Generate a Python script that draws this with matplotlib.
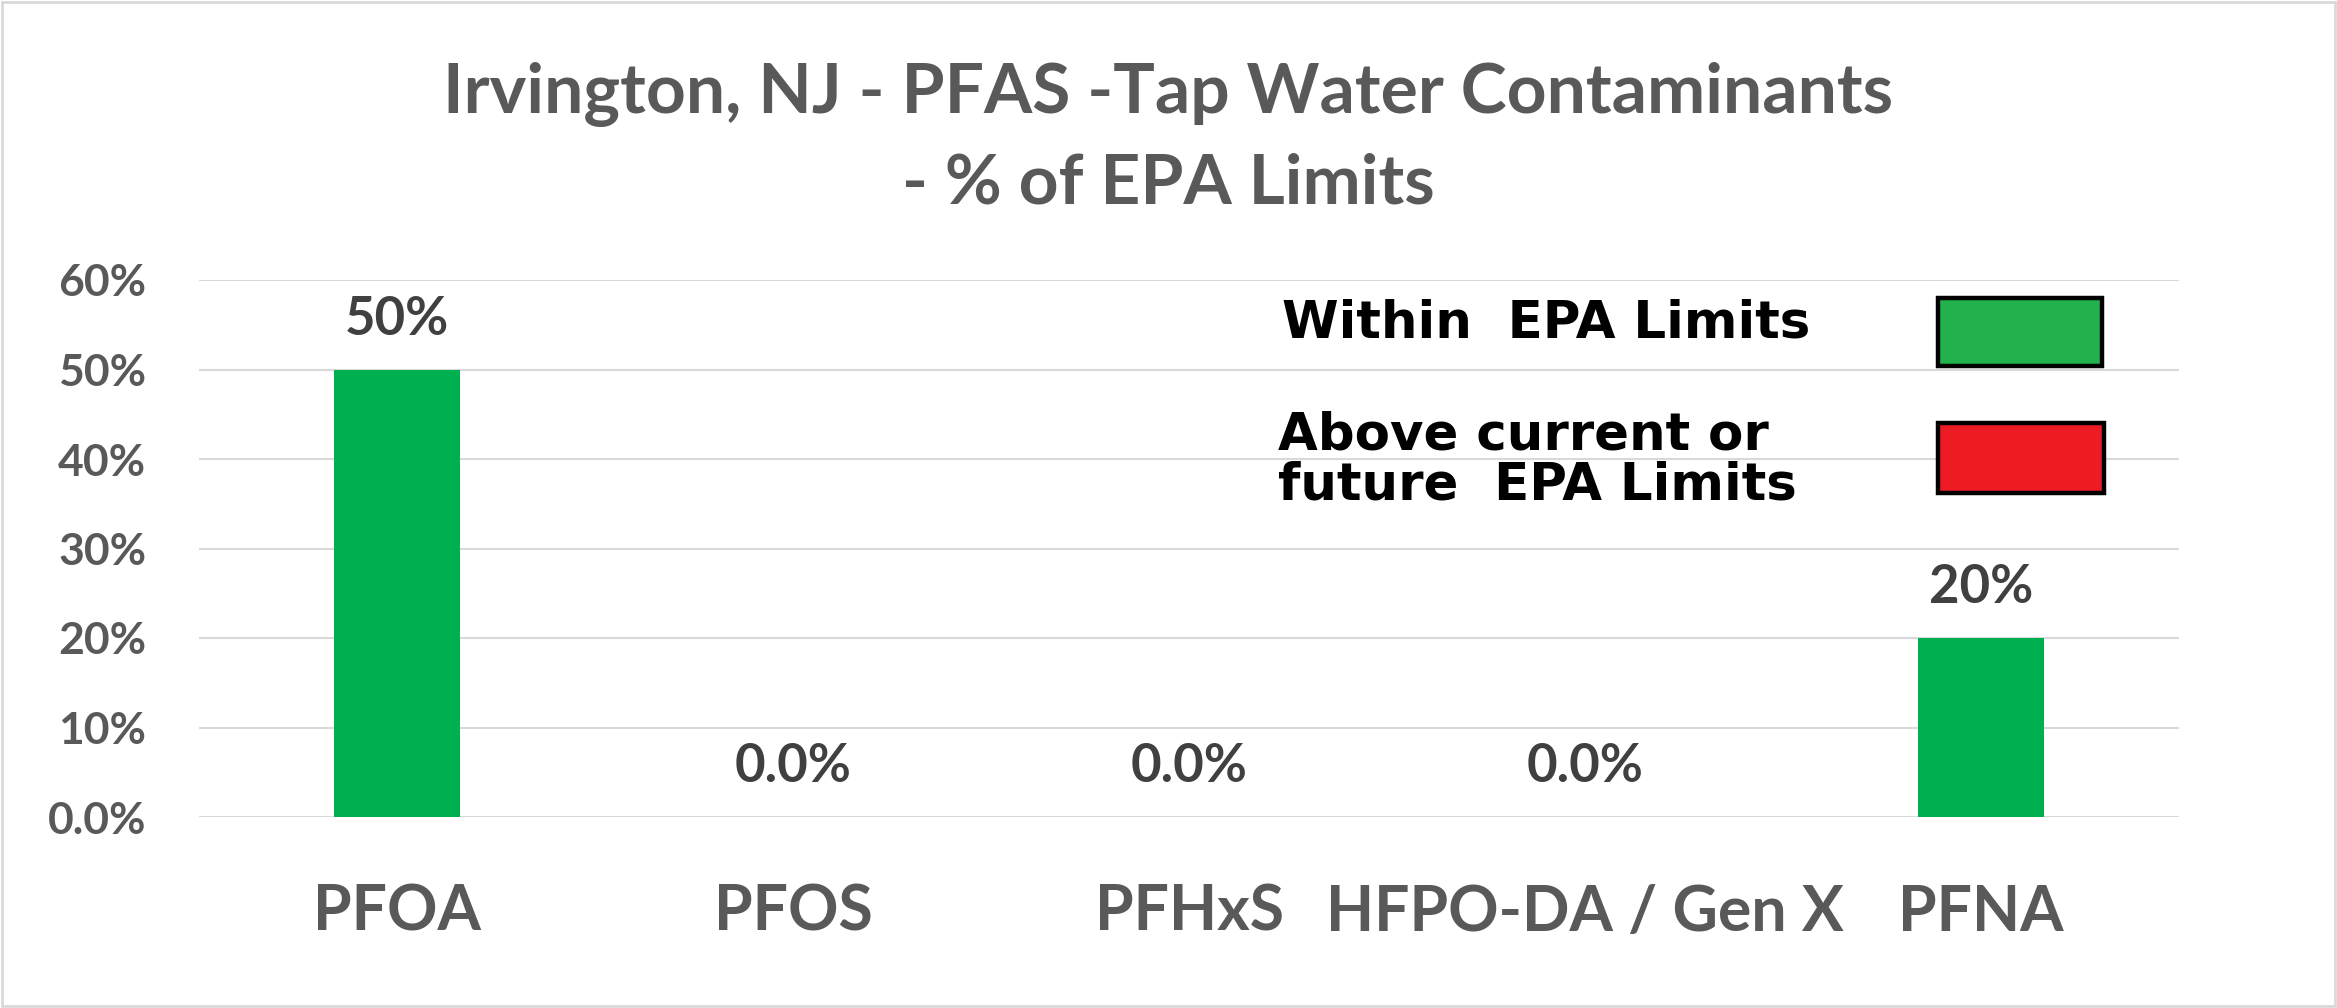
import matplotlib.pyplot as plt
from matplotlib.patches import Rectangle

categories = ["PFOA", "PFOS", "PFHxS", "HFPO-DA / Gen X", "PFNA"]
values = [0.50, 0.0, 0.0, 0.0, 0.20]
value_labels = ["50%", "0.0%", "0.0%", "0.0%", "20%"]
yticks = [0.0, 0.1, 0.2, 0.3, 0.4, 0.5, 0.6]
ytick_labels = ["0.0%", "10%", "20%", "30%", "40%", "50%", "60%"]
legend_items = [("Within  EPA Limits", "#22B14C"),
                ("Above current or\nfuture  EPA Limits", "#ED1C24")]

W, H = 2337, 1008
fig = plt.figure(figsize=(W / 100, H / 100), dpi=100)
fig.patch.set_facecolor("white")

# axes box in pixels: left 199, right 2179, top 280, bottom 817
ax = fig.add_axes([199 / W, 1 - 817 / H, (2179 - 199) / W, (817 - 280) / H])

font = "Lato"
gray = "#595959"

x = list(range(len(categories)))
ax.bar(x, values, width=0.316, color="#00B050", zorder=3)

for xi, v, lab in zip(x, values, value_labels):
    ax.annotate(lab, (xi, v), xytext=(0, 25), textcoords="offset points",
                ha="center", va="baseline", fontsize=38, fontweight="bold",
                family=font, color="#404040")

ax.set_xlim(-0.5, len(categories) - 0.5)
ax.set_ylim(0, 0.6)
ax.set_yticks(yticks)
ax.set_yticklabels(ytick_labels, fontsize=32, fontweight="bold", family=font, color=gray)
ax.set_xticks(x)
ax.set_xticklabels(categories, fontsize=45, fontweight="bold", family=font, color=gray)
ax.tick_params(axis="y", length=0, pad=38)
ax.tick_params(axis="x", length=0, pad=48)
ax.grid(axis="y", color="#D9D9D9", linewidth=1.5, zorder=0)
for s in ax.spines.values():
    s.set_visible(False)

# title
fig.text(0.5, 1 - 113 / H, "Irvington, NJ - PFAS -Tap Water Contaminants",
         ha="center", va="baseline", fontsize=50, fontweight="bold", family=font, color=gray)
fig.text(0.5, 1 - 204 / H, "- % of EPA Limits",
         ha="center", va="baseline", fontsize=50, fontweight="bold", family=font, color=gray)

# legend drawn as boxes + text, like the original picture
boxes = [(1938, 298, 164, 68), (1938, 423, 166, 70)]
text_pos = [(1282, 338), (1278, 500)]
for (lab, col), (bx, by, bw, bh), (tx, ty) in zip(legend_items, boxes, text_pos):
    fig.patches.append(Rectangle((bx / W, 1 - (by + bh) / H), bw / W, bh / H,
                                 transform=fig.transFigure, facecolor=col,
                                 edgecolor="black", linewidth=3.2, zorder=5))
    fig.text(tx / W, 1 - ty / H, lab, ha="left", va="baseline", fontsize=37,
             fontweight="bold", family="DejaVu Sans", color="black",
             linespacing=1.0, zorder=6)

# light border around the whole picture
fig.patches.append(Rectangle((0.001, 0.002), 0.998, 0.996, transform=fig.transFigure,
                             fill=False, edgecolor="#D9D9D9", linewidth=2))

fig.savefig("out.png", dpi=100)
